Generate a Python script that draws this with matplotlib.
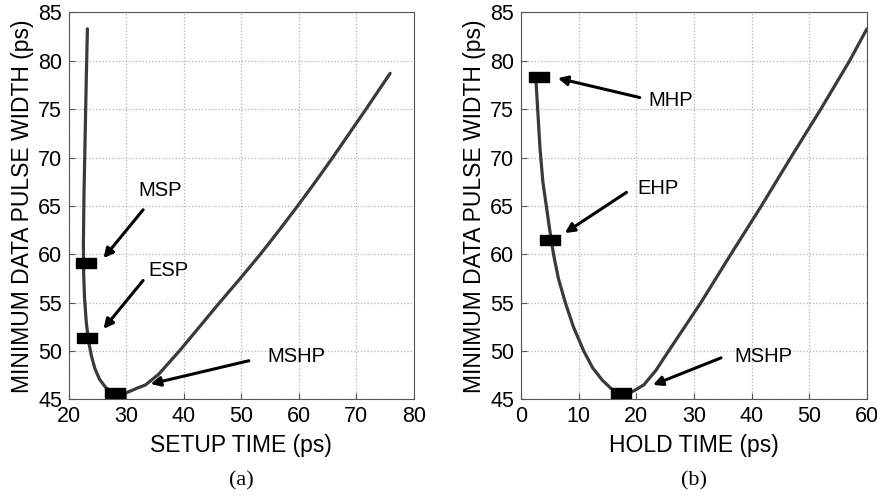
import matplotlib.pyplot as plt

plt.rcParams['font.family'] = ['Liberation Sans', 'DejaVu Sans']

# (a) setup time vs minimum data pulse width
setup_x = [23.2, 23.0, 22.8, 22.6, 22.5, 22.55, 22.7, 23.0, 23.4, 23.9, 24.5, 25.3, 26.3,
           27.3, 28.5, 30.0, 32.0, 33.3, 35.6, 37.4, 39.2, 42.7, 46.2, 49.8, 53.3, 56.6,
           59.8, 62.9, 65.9, 68.8, 71.7, 75.9]
setup_y = [83.3, 78.0, 72.0, 66.0, 61.0, 58.0, 55.5, 53.0, 51.0, 49.5, 48.2, 47.1, 46.3,
           45.8, 45.6, 45.7, 46.2, 46.5, 47.6, 48.8, 50.0, 52.5, 55.0, 57.5, 60.0, 62.5,
           65.0, 67.5, 70.0, 72.5, 75.0, 78.7]
setup_pts = ['MSP', 'ESP', 'MSHP']
setup_pt_x = [22.9, 23.2, 28.0]
setup_pt_y = [59.1, 51.3, 45.7]
setup_arrow_from = [(32.9, 64.6), (32.9, 57.3), (51.3, 49.0)]
setup_arrow_to = [(26.0, 59.6), (26.0, 52.3), (34.2, 46.6)]
setup_text_at = [(35.8, 66.6), (37.3, 58.3), (59.5, 49.4)]

# (b) hold time vs minimum data pulse width
hold_x = [2.6, 2.9, 3.3, 3.8, 4.4, 5.0, 5.65, 6.5, 7.7, 9.1, 10.9, 12.4, 14.1, 15.7,
          17.3, 19.3, 21.3, 23.4, 25.6, 31.2, 36.4, 41.7, 46.8, 52.0, 57.0, 60.0]
hold_y = [78.0, 75.0, 71.0, 67.5, 65.0, 62.5, 60.0, 57.5, 55.0, 52.5, 50.0, 48.3, 47.0, 46.1,
          45.6, 45.8, 46.5, 48.0, 50.0, 55.0, 60.0, 65.0, 70.0, 75.0, 80.0, 83.3]
hold_pts = ['MHP', 'EHP', 'MSHP']
hold_pt_x = [3.2, 5.0, 17.4]
hold_pt_y = [78.3, 61.5, 45.7]
hold_arrow_from = [(20.6, 76.2), (18.3, 66.4), (34.7, 49.3)]
hold_arrow_to = [(6.4, 78.2), (7.6, 62.2), (22.9, 46.5)]
hold_text_at = [(25.9, 75.9), (23.8, 66.8), (42.1, 49.4)]

rect = [(-1, -0.5), (1, -0.5), (1, 0.5), (-1, 0.5), (-1, -0.5)]

fig = plt.figure(figsize=(8.77, 4.95), dpi=100)
ax_a = fig.add_axes([0.0787, 0.193, 0.393, 0.782])
ax_b = fig.add_axes([0.594, 0.193, 0.3945, 0.782])


def draw(ax, x, y, px, py, names, a_from, a_to, t_at, xlim, xticks, xlabel, tag):
    ax.plot(x, y, color='#3a3a3a', lw=2.3, solid_capstyle='round', solid_joinstyle='round')
    ax.plot(px, py, ls='none', marker=rect, markersize=15, color='black')
    for n, f, t, p in zip(names, a_from, a_to, t_at):
        ax.annotate('', xy=t, xytext=f,
                    arrowprops=dict(arrowstyle='-|>', color='black', lw=2.2,
                                    mutation_scale=14, shrinkA=0, shrinkB=0))
        ax.text(p[0], p[1], n, fontsize=14.5, ha='center', va='center')
    ax.set_xlim(*xlim)
    ax.set_ylim(45, 85)
    ax.set_xticks(xticks)
    ax.set_yticks(range(45, 86, 5))
    ax.grid(True, ls=':', color='#b0b0b0', lw=0.9)
    ax.tick_params(direction='in', labelsize=15.5, length=4, color='#555555', pad=5)
    for s in ax.spines.values():
        s.set_color('#555555')
    ax.set_xlabel(xlabel, fontsize=16.5, labelpad=5)
    ax.set_ylabel('MINIMUM DATA PULSE WIDTH (ps)', fontsize=16.5, labelpad=3)
    ax.text(0.5, -0.209, tag, transform=ax.transAxes, ha='center', va='center',
            fontsize=16, family=['Liberation Serif', 'DejaVu Serif'])


draw(ax_a, setup_x, setup_y, setup_pt_x, setup_pt_y, setup_pts,
     setup_arrow_from, setup_arrow_to, setup_text_at,
     (20, 80), range(20, 81, 10), 'SETUP TIME (ps)', '(a)')
draw(ax_b, hold_x, hold_y, hold_pt_x, hold_pt_y, hold_pts,
     hold_arrow_from, hold_arrow_to, hold_text_at,
     (0, 60), range(0, 61, 10), 'HOLD TIME (ps)', '(b)')

fig.savefig('out.png', dpi=100)
